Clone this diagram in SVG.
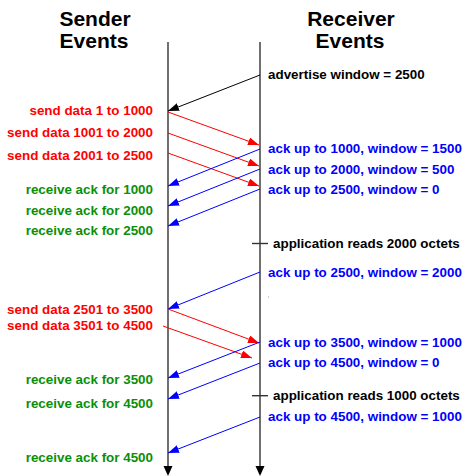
<svg xmlns="http://www.w3.org/2000/svg" width="465" height="476" viewBox="0 0 465 476">
<style>
text{font-family:"Liberation Sans",Arial,sans-serif;font-weight:bold}
.title{font-size:21px;fill:#000;text-anchor:middle}
.lbl{font-size:13.4px}
.r{fill:#ff0000;text-anchor:end}
.g{fill:#0a8f0a;text-anchor:end}
.b{fill:#0000ff}
.k{fill:#000}
.tl{stroke:#333;stroke-width:1.4;fill:none}
.ar{stroke:#ff0000;stroke-width:1;fill:none;marker-end:url(#mr)}
.ab{stroke:#0000ff;stroke-width:1;fill:none;marker-end:url(#mb)}
.ak{stroke:#000;stroke-width:1;fill:none;marker-end:url(#mk)}
</style>
<defs>
<marker id="mr" markerUnits="userSpaceOnUse" markerWidth="11" markerHeight="8" refX="11" refY="4" orient="auto"><path d="M0,0 L11,4 L0,8 z" fill="#ff0000"/></marker>
<marker id="mb" markerUnits="userSpaceOnUse" markerWidth="11" markerHeight="8" refX="11" refY="4" orient="auto"><path d="M0,0 L11,4 L0,8 z" fill="#0000ff"/></marker>
<marker id="mk" markerUnits="userSpaceOnUse" markerWidth="11" markerHeight="8" refX="11" refY="4" orient="auto"><path d="M0,0 L11,4 L0,8 z" fill="#000"/></marker>
</defs>
<rect width="465" height="476" fill="#fff"/>
<g id="sender-header"><text class="title" x="95" y="26">Sender</text><text class="title" x="94" y="48">Events</text></g>
<g id="receiver-header"><text class="title" x="351" y="26">Receiver</text><text class="title" x="350" y="48">Events</text></g>
<g id="timelines">
<line class="tl" x1="168" y1="42" x2="168" y2="467"/>
<path d="M163.5,466 L172.5,466 L168,476 z" fill="#000"/>
<line class="tl" x1="260" y1="42" x2="260" y2="467"/>
<path d="M255.5,466 L264.5,466 L260,476 z" fill="#000"/>
<line class="tl" x1="252" y1="243.5" x2="268" y2="243.5"/>
<line class="tl" x1="252" y1="395.7" x2="268" y2="395.7"/>
</g>
<g id="connectors">
<line class="ak" x1="260" y1="75" x2="168" y2="111"/>
<line class="ar" x1="168" y1="112" x2="259" y2="145"/>
<line class="ar" x1="168" y1="133" x2="259" y2="166"/>
<line class="ar" x1="168" y1="153" x2="259" y2="186"/>
<line class="ab" x1="260" y1="149" x2="168" y2="186"/>
<line class="ab" x1="260" y1="169" x2="168" y2="206"/>
<line class="ab" x1="260" y1="189" x2="168" y2="226"/>
<line class="ab" x1="260" y1="272" x2="168" y2="309"/>
<line class="ar" x1="168" y1="309" x2="259" y2="343"/>
<line class="ar" x1="163" y1="326" x2="252" y2="358"/>
<line class="ab" x1="260" y1="342" x2="168" y2="378"/>
<line class="ab" x1="260" y1="363" x2="168" y2="399"/>
<line class="ab" x1="260" y1="417" x2="168" y2="453"/>
</g>
<g id="sender-labels" class="lbl">
<text class="lbl r" x="153" y="115">send data 1 to 1000</text>
<text class="lbl r" x="153" y="137">send data 1001 to 2000</text>
<text class="lbl r" x="153" y="160">send data 2001 to 2500</text>
<text class="lbl g" x="153" y="194">receive ack for 1000</text>
<text class="lbl g" x="153" y="214.5">receive ack for 2000</text>
<text class="lbl g" x="153" y="235">receive ack for 2500</text>
<text class="lbl r" x="153" y="314">send data 2501 to 3500</text>
<text class="lbl r" x="153" y="330">send data 3501 to 4500</text>
<text class="lbl g" x="153" y="384">receive ack for 3500</text>
<text class="lbl g" x="153" y="408">receive ack for 4500</text>
<text class="lbl g" x="153" y="462">receive ack for 4500</text>
</g>
<g id="receiver-labels">
<text class="lbl k" x="268" y="79">advertise window = 2500</text>
<text class="lbl b" x="268" y="153">ack up to 1000, window = 1500</text>
<text class="lbl b" x="268" y="174">ack up to 2000, window = 500</text>
<text class="lbl b" x="268" y="194">ack up to 2500, window = 0</text>
<text class="lbl k" x="273" y="248">application reads 2000 octets</text>
<text class="lbl b" x="268" y="277">ack up to 2500, window = 2000</text>
<text class="lbl b" x="268" y="347">ack up to 3500, window = 1000</text>
<text class="lbl b" x="268" y="367">ack up to 4500, window = 0</text>
<text class="lbl k" x="273" y="400">application reads 1000 octets</text>
<text class="lbl b" x="268" y="421">ack up to 4500, window = 1000</text>
</g>
<rect x="268" y="296.5" width="1" height="1" fill="#999"/>
</svg>
